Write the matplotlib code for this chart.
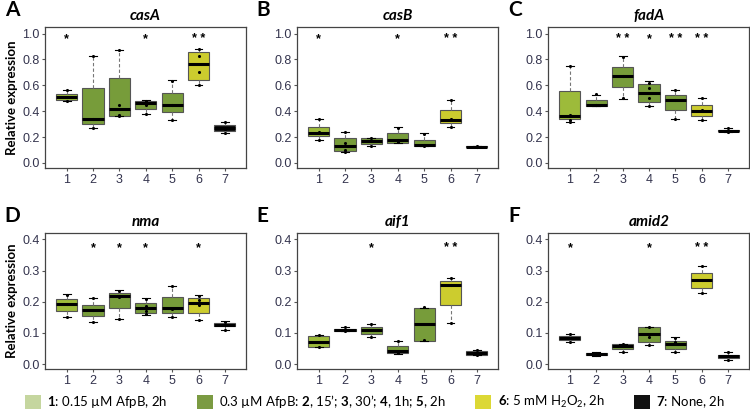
import matplotlib
matplotlib.use('Agg')
import matplotlib.pyplot as plt
from matplotlib.patches import Patch

plt.rcParams['mathtext.fontset'] = 'custom'
plt.rcParams['mathtext.rm'] = 'Lato'
plt.rcParams['mathtext.bf'] = 'Lato:bold'

groups = [1, 2, 3, 4, 5, 6, 7]

# box stats per group: (whisker low, q1, median, q3, whisker high)
casA_box = [(0.48, 0.49, 0.51, 0.53, 0.56), (0.27, 0.30, 0.34, 0.58, 0.83),
            (0.36, 0.36, 0.42, 0.66, 0.87), (0.38, 0.42, 0.465, 0.48, 0.49),
            (0.33, 0.39, 0.45, 0.54, 0.64), (0.60, 0.64, 0.765, 0.855, 0.88),
            (0.23, 0.25, 0.27, 0.29, 0.32)]
casA_pts = [[0.56, 0.51, 0.48], [0.83, 0.34, 0.27], [0.87, 0.45, 0.37, 0.36],
            [0.48, 0.46, 0.45, 0.38], [0.63, 0.45, 0.33], [0.88, 0.83, 0.70, 0.60],
            [0.32, 0.26, 0.23]]
casA_sig = ['*', '', '', '*', '', '**', '']

casB_box = [(0.18, 0.205, 0.23, 0.275, 0.34), (0.085, 0.09, 0.13, 0.195, 0.235),
            (0.13, 0.145, 0.17, 0.195, 0.195), (0.155, 0.155, 0.18, 0.23, 0.275),
            (0.13, 0.13, 0.135, 0.18, 0.23), (0.28, 0.305, 0.33, 0.41, 0.485),
            (0.12, 0.12, 0.125, 0.128, 0.13)]
casB_pts = [[0.34, 0.24, 0.18], [0.235, 0.15, 0.10, 0.085], [0.19, 0.17, 0.13],
            [0.27, 0.18, 0.16], [0.225, 0.135, 0.13], [0.485, 0.34, 0.28],
            [0.13, 0.12, 0.12]]
casB_sig = ['*', '', '', '*', '', '**', '']

fadA_box = [(0.32, 0.34, 0.365, 0.555, 0.75), (0.44, 0.44, 0.45, 0.49, 0.525),
            (0.495, 0.585, 0.67, 0.74, 0.825), (0.44, 0.47, 0.54, 0.61, 0.63),
            (0.34, 0.41, 0.49, 0.525, 0.56), (0.33, 0.36, 0.405, 0.45, 0.50),
            (0.235, 0.245, 0.25, 0.255, 0.27)]
fadA_pts = [[0.75, 0.37, 0.33, 0.32], [0.53, 0.45, 0.45], [0.82, 0.67, 0.50],
            [0.62, 0.58, 0.50, 0.44], [0.56, 0.49, 0.34], [0.50, 0.41, 0.33],
            [0.27, 0.25, 0.24]]
fadA_sig = ['', '', '**', '*', '**', '**', '']

nma_box = [(0.15, 0.17, 0.193, 0.208, 0.224), (0.135, 0.154, 0.173, 0.191, 0.213),
           (0.144, 0.179, 0.22, 0.228, 0.237), (0.159, 0.164, 0.179, 0.197, 0.212),
           (0.15, 0.163, 0.179, 0.214, 0.252), (0.142, 0.165, 0.197, 0.212, 0.222),
           (0.111, 0.121, 0.127, 0.133, 0.137)]
nma_pts = [[0.222, 0.193, 0.15], [0.212, 0.175, 0.135], [0.235, 0.215, 0.145],
           [0.21, 0.185, 0.17, 0.16], [0.252, 0.178, 0.15], [0.22, 0.205, 0.19, 0.14],
           [0.135, 0.125, 0.11]]
nma_sig = ['', '*', '*', '*', '', '*', '']

aif1_box = [(0.055, 0.055, 0.072, 0.091, 0.094), (0.106, 0.105, 0.109, 0.112, 0.118),
            (0.086, 0.097, 0.11, 0.12, 0.128), (0.032, 0.037, 0.041, 0.057, 0.073),
            (0.075, 0.075, 0.13, 0.181, 0.181), (0.132, 0.191, 0.255, 0.266, 0.275),
            (0.028, 0.03, 0.035, 0.041, 0.045)]
aif1_pts = [[0.094, 0.072, 0.055], [0.118, 0.111, 0.107], [0.128, 0.11, 0.087],
            [0.073, 0.04, 0.035], [0.183, 0.078], [0.277, 0.255, 0.132],
            [0.045, 0.035, 0.03]]
aif1_sig = ['', '', '*', '', '', '**', '']

amid2_box = [(0.07, 0.076, 0.083, 0.09, 0.097), (0.027, 0.029, 0.033, 0.036, 0.038),
             (0.038, 0.048, 0.057, 0.063, 0.065), (0.06, 0.071, 0.098, 0.118, 0.12),
             (0.039, 0.05, 0.065, 0.075, 0.086), (0.227, 0.245, 0.27, 0.292, 0.314),
             (0.012, 0.019, 0.025, 0.03, 0.038)]
amid2_pts = [[0.097, 0.085, 0.07], [0.037, 0.033, 0.029], [0.065, 0.057, 0.04],
             [0.12, 0.088, 0.06], [0.085, 0.07, 0.04], [0.314, 0.27, 0.227],
             [0.038, 0.025, 0.014]]
amid2_sig = ['*', '', '', '*', '', '**', '']

box_colors = ['#9dbb3a', '#779c3a', '#779c3a', '#779c3a', '#779c3a', '#cccc2e', '#111111']
legend_colors = ['#c5d69f', '#7b9b42', '#dcd835', '#111111']
legend_labels = [r'$\mathbf{1}$: 0.15 µM AfpB, 2h',
                 r"0.3 µM AfpB: $\mathbf{2}$, 15’; $\mathbf{3}$, 30’; $\mathbf{4}$, 1h; $\mathbf{5}$, 2h",
                 r'$\mathbf{6}$: 5 mM H$_2$O$_2$, 2h',
                 r'$\mathbf{7}$: None, 2h']

panels = [('A', 'casA', casA_box, casA_pts, casA_sig),
          ('B', 'casB', casB_box, casB_pts, casB_sig),
          ('C', 'fadA', fadA_box, fadA_pts, fadA_sig),
          ('D', 'nma', nma_box, nma_pts, nma_sig),
          ('E', 'aif1', aif1_box, aif1_pts, aif1_sig),
          ('F', 'amid2', amid2_box, amid2_pts, amid2_sig)]

fig = plt.figure(figsize=(7.5, 4.18), dpi=100)
lefts = [0.060, 0.396, 0.731]
rows = [(0.598, 0.337), (0.117, 0.325)]
tick_col = '#33334d'

for k, (letter, gene, box, pts, sig) in enumerate(panels):
    r, c = divmod(k, 3)
    ax = fig.add_axes([lefts[c], rows[r][0], 0.268, rows[r][1]])
    stats = [dict(whislo=b[0], q1=b[1], med=b[2], q3=b[3], whishi=b[4], fliers=[])
             for b in box]
    bp = ax.bxp(stats, positions=groups, widths=0.8, patch_artist=True,
                showfliers=False, capwidths=0.3,
                boxprops=dict(edgecolor='#555555', linewidth=0.8),
                medianprops=dict(color='black', linewidth=2.2),
                whiskerprops=dict(color='#777777', linewidth=0.8, linestyle=(0, (3, 2))),
                capprops=dict(color='black', linewidth=0.8))
    for patch, col in zip(bp['boxes'], box_colors):
        patch.set_facecolor(col)
    for g, p in zip(groups, pts):
        ax.scatter([g] * len(p), p, s=5, color='black', zorder=5, linewidths=0)
    if r == 0:
        ax.set_ylim(-0.04, 1.05)
        ax.set_yticks([0.0, 0.2, 0.4, 0.6, 0.8, 1.0])
        star_y = 0.955
    else:
        ax.set_ylim(-0.016, 0.42)
        ax.set_yticks([0.0, 0.1, 0.2, 0.3, 0.4])
        star_y = 0.372
    for g, s in zip(groups, sig):
        if s:
            ax.text(g, star_y, ' '.join(s), ha='center', va='center', fontsize=9,
                    fontweight='bold', family='Liberation Sans')
    ax.set_xlim(0.18, 7.8)
    ax.set_xticks(groups)
    ax.set_xticklabels([str(g) for g in groups])
    ax.yaxis.set_major_formatter(matplotlib.ticker.FormatStrFormatter('%.1f'))
    ax.tick_params(labelsize=9, colors='#555555', labelcolor=tick_col, length=2.5,
                   width=0.8, pad=1.5)
    for lab in ax.get_xticklabels() + ax.get_yticklabels():
        lab.set_family('Liberation Sans')
    for sp in ax.spines.values():
        sp.set_color('#444444')
        sp.set_linewidth(0.9)
    ax.set_title(gene, fontsize=11, fontweight='bold', style='italic',
                 family='Lato', pad=5)
    ax.text(-0.2, 1.05, letter, transform=ax.transAxes, fontsize=15,
            fontweight='bold', family='Lato', va='bottom')
    if c == 0:
        ax.set_ylabel('Relative expression', fontsize=9.5, fontweight='bold',
                      family='Lato', labelpad=3)

handles = [Patch(facecolor=col, edgecolor='none') for col in legend_colors]
fig.legend(handles, legend_labels, loc='lower center', ncol=4, frameon=False,
           bbox_to_anchor=(0.5, -0.01), handlelength=1.2, handleheight=1.2,
           handletextpad=0.5, columnspacing=2.2,
           prop=dict(family='Lato', size=9.5))

fig.savefig('out.png', dpi=100)
